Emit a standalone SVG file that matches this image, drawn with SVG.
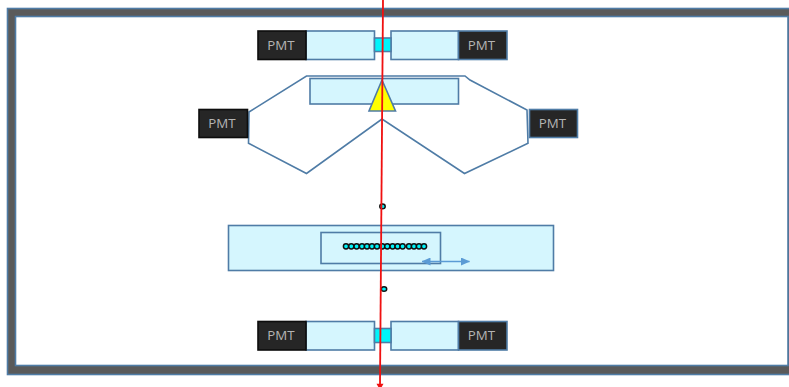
<svg xmlns="http://www.w3.org/2000/svg" width="789" height="387" viewBox="0 0 789 387">
<style>
.b{stroke:#4f7ca6;stroke-width:1.6}
.c{fill:#d5f6fe}
.pb{fill:#262626;stroke:#4f7ca6;stroke-width:1.6}
.pk{fill:#262626;stroke:#0d0d0d;stroke-width:1.6}
.t{font-family:"Open Sans","DejaVu Sans",sans-serif;font-size:13.3px;fill:#b4b4b4;text-anchor:middle}
.d{fill:#00f4fa;stroke:#111;stroke-width:1.5}
</style>
<defs>
<marker id="h" markerWidth="9" markerHeight="8" refX="8.5" refY="4" orient="auto-start-reverse" markerUnits="userSpaceOnUse"><path d="M0 0L9 4L0 8z" fill="#5b9bd5"/></marker>
</defs>
<rect width="789" height="387" fill="#fff"/>
<g id="frame">
<rect x="7.500" y="8.500" width="800" height="366" fill="#5a5a5a" class="b"/>
<rect x="15.500" y="16.500" width="772.500" height="349" fill="#fff" class="b"/>
</g>
<g id="top-detector">
<rect x="306" y="31" width="68.500" height="28.500" class="c b"/>
<rect x="391" y="31" width="67.500" height="28.500" class="c b"/>
<rect x="374.500" y="38" width="16.500" height="13.500" fill="#00f4fa" class="b"/>
<g id="pmt-top-left"><rect x="258" y="31" width="48" height="28.500" class="pk"/><text x="281" y="50" class="t">PMT</text></g>
<g id="pmt-top-right"><rect x="458.500" y="31" width="48.500" height="28.500" class="pb"/><text x="481.500" y="49.500" class="t">PMT</text></g>
</g>
<g id="chamber">
<path d="M249 112L306.500 76H465L470 80L527 110L528 143.300L464.500 173.500L382 119L306.500 173.500L248.500 143.300Z" fill="#fff" class="b"/>
<rect x="310" y="78.500" width="148.500" height="25.500" class="c b"/>
<path d="M382 80L395.500 111H369Z" fill="#ffff00" class="b"/>
<g id="pmt-mid-left"><rect x="199" y="109.500" width="48.500" height="28" class="pk"/><text x="222" y="128" class="t">PMT</text></g>
<g id="pmt-mid-right"><rect x="529.500" y="109.500" width="48" height="28" class="pb"/><text x="552.500" y="128" class="t">PMT</text></g>
</g>
<g id="target">
<rect x="228.500" y="225.500" width="325" height="45" class="c b"/>
<rect x="321" y="232.500" width="119.500" height="31" class="c b"/>
<g id="beads">
<circle cx="346" cy="246.300" r="2.600" class="d"/><circle cx="351.300" cy="246.300" r="2.600" class="d"/><circle cx="356.600" cy="246.300" r="2.600" class="d"/><circle cx="362" cy="246.300" r="2.600" class="d"/><circle cx="367" cy="246.300" r="2.600" class="d"/><circle cx="372" cy="246.300" r="2.600" class="d"/><circle cx="377" cy="246.300" r="2.600" class="d"/><circle cx="382.300" cy="246.300" r="2.600" class="d"/><circle cx="387.300" cy="246.300" r="2.600" class="d"/><circle cx="392.600" cy="246.300" r="2.600" class="d"/><circle cx="397.600" cy="246.300" r="2.600" class="d"/><circle cx="402.600" cy="246.300" r="2.600" class="d"/><circle cx="409" cy="246.300" r="2.600" class="d"/><circle cx="414" cy="246.300" r="2.600" class="d"/><circle cx="419" cy="246.300" r="2.600" class="d"/><circle cx="424" cy="246.300" r="2.600" class="d"/>
</g>
</g>
<g id="sample-top"><ellipse cx="382.500" cy="206.400" rx="2.700" ry="2.300" class="d"/></g>
<g id="sample-bottom"><ellipse cx="384" cy="289" rx="2.700" ry="2.300" class="d"/></g>
<g id="bottom-detector">
<rect x="306" y="321.500" width="68.500" height="28.500" class="c b"/>
<rect x="391" y="321.500" width="67.500" height="28.500" class="c b"/>
<rect x="374.500" y="328.500" width="16.500" height="14" fill="#00f4fa" class="b"/>
<g id="pmt-bottom-left"><rect x="258" y="321.500" width="48" height="28.500" class="pk"/><text x="281" y="340" class="t">PMT</text></g>
<g id="pmt-bottom-right"><rect x="458.500" y="321.500" width="48.500" height="28.500" class="pb"/><text x="481.500" y="340" class="t">PMT</text></g>
</g>
<g id="connectors">
<line x1="422" y1="261.500" x2="469.500" y2="261.500" stroke="#5b9bd5" stroke-width="1.500" marker-start="url(#h)" marker-end="url(#h)"/>
<line x1="383" y1="0" x2="380" y2="384" stroke="#f01010" stroke-width="1.800"/>
<path d="M376.500 383.700H383.500L380 390Z" fill="#f01010"/>
</g>
</svg>
